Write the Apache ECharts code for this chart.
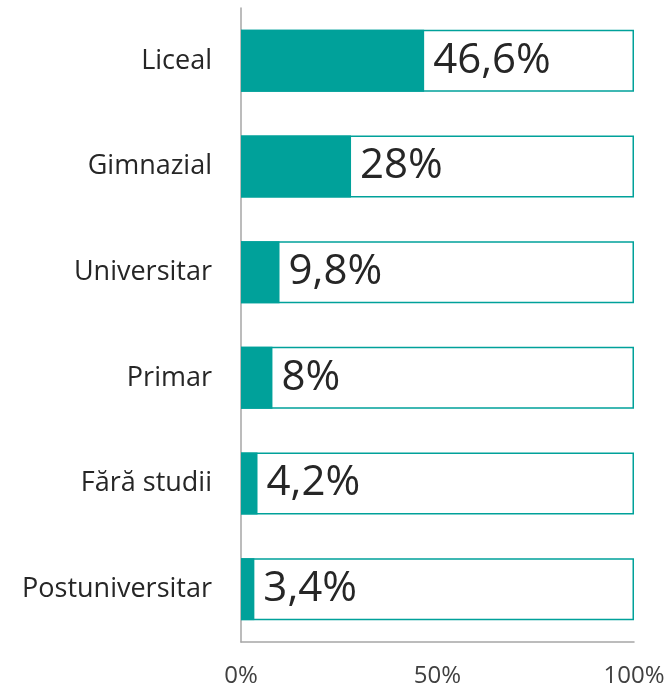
<!DOCTYPE html>
<html><head><meta charset="utf-8">
<script src="https://cdn.jsdelivr.net/npm/echarts@6/dist/echarts.min.js"></script>
<style>html,body{margin:0;padding:0;background:#fff}#c{width:670px;height:689px}</style>
</head><body><div id="c"></div>
<script>
const categories = ['Liceal','Gimnazial','Universitar','Primar','Fără studii','Postuniversitar'];
const values = [46.6, 28, 9.8, 8, 4.2, 3.4];
const valueLabels = ['46,6%','28%','9,8%','8%','4,2%','3,4%'];
const fullValues = [100,100,100,100,100,100];
const xTicks = [0,50,100];

const teal = '#00A19A';
const font = 'Open Sans';
const chart = echarts.init(document.getElementById('c'));
chart.setOption({
  animation:false,
  grid:{left:241,right:36,top:8,bottom:47,containLabel:false},
  xAxis:{type:'value',min:0,max:100,interval:50,
    axisLine:{show:true,lineStyle:{color:'#A6A6A6',width:1.5}},
    axisTick:{show:false},splitLine:{show:false},
    axisLabel:{formatter:v=>v+'%',fontFamily:font,fontSize:24,color:'#404040',margin:22}},
  yAxis:{type:'category',data:categories,inverse:true,
    axisLine:{show:true,lineStyle:{color:'#A6A6A6',width:1.5}},
    axisTick:{show:false},
    axisLabel:{fontFamily:font,fontSize:27,color:'#262626',margin:29}},
  series:[
    {type:'bar',data:fullValues,barWidth:'58.6%',barGap:'-100%',silent:true,z:1,
      itemStyle:{color:'#fff',borderColor:teal,borderWidth:1.5}},
    {type:'bar',data:values,barWidth:'58.6%',z:2,
      itemStyle:{color:teal},
      label:{show:true,position:'right',distance:9,fontFamily:font,fontSize:42,color:'#262626',
        formatter:p=>valueLabels[p.dataIndex]}}
  ]
});
</script></body></html>
